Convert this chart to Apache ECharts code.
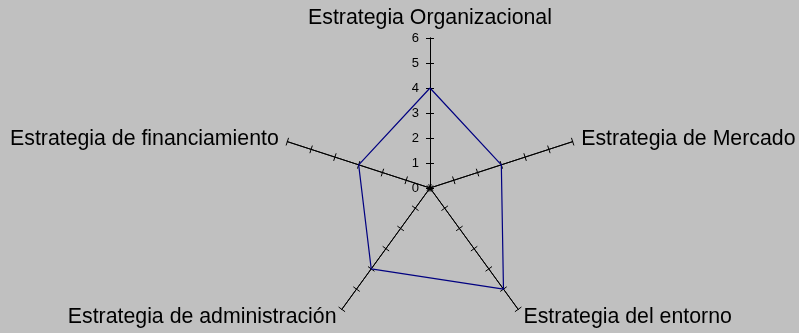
<!DOCTYPE html>
<html><head><meta charset="utf-8">
<script src="https://cdn.jsdelivr.net/npm/echarts@6/dist/echarts.min.js"></script>
<style>html,body{margin:0;padding:0;background:#c0c0c0}#c{width:799px;height:333px}</style>
</head><body><div id="c"></div>
<script>
const categories = ["Estrategia Organizacional","Estrategia de Mercado","Estrategia del entorno","Estrategia de administración","Estrategia de financiamiento"];
const values = [4, 3, 5, 4, 3];
const axisMax = 6;

// ECharts lays radar indicators counter-clockwise; reorder to draw clockwise
const order = [0, 4, 3, 2, 1];
const chart = echarts.init(document.getElementById('c'));
function radarCfg(second){
  return {
    center:[430,188], radius:150, startAngle:90, shape:'polygon',
    splitNumber:6,
    indicator: order.map((k,i)=>({name:categories[k], min:0, max:axisMax,
      axisLabel: (!second && i===0) ? {show:true} : {show:false}})),
    axisName:{show:!second, color:'#000', fontFamily:'Liberation Sans, Arial', fontSize:21.3},
    nameGap:9,
    axisLine:{lineStyle:{color:'#000', width:1}},
    axisTick:{show:true, length: second ? -4 : 4, lineStyle:{color:'#000', width:1}},
    axisLabel:{show:!second, color:'#000', fontFamily:'Liberation Sans, Arial', fontSize:13, margin:11},
    splitLine:{show:false}, splitArea:{show:false}
  };
}
chart.setOption({
  backgroundColor:'#c0c0c0',
  animation:false,
  radar:[radarCfg(false), radarCfg(true)],
  series:[{type:'radar', radarIndex:0, symbol:'none',
    lineStyle:{color:'#000080', width:1.2},
    data:[{value:order.map(k=>values[k])}]}]
});
</script></body></html>
